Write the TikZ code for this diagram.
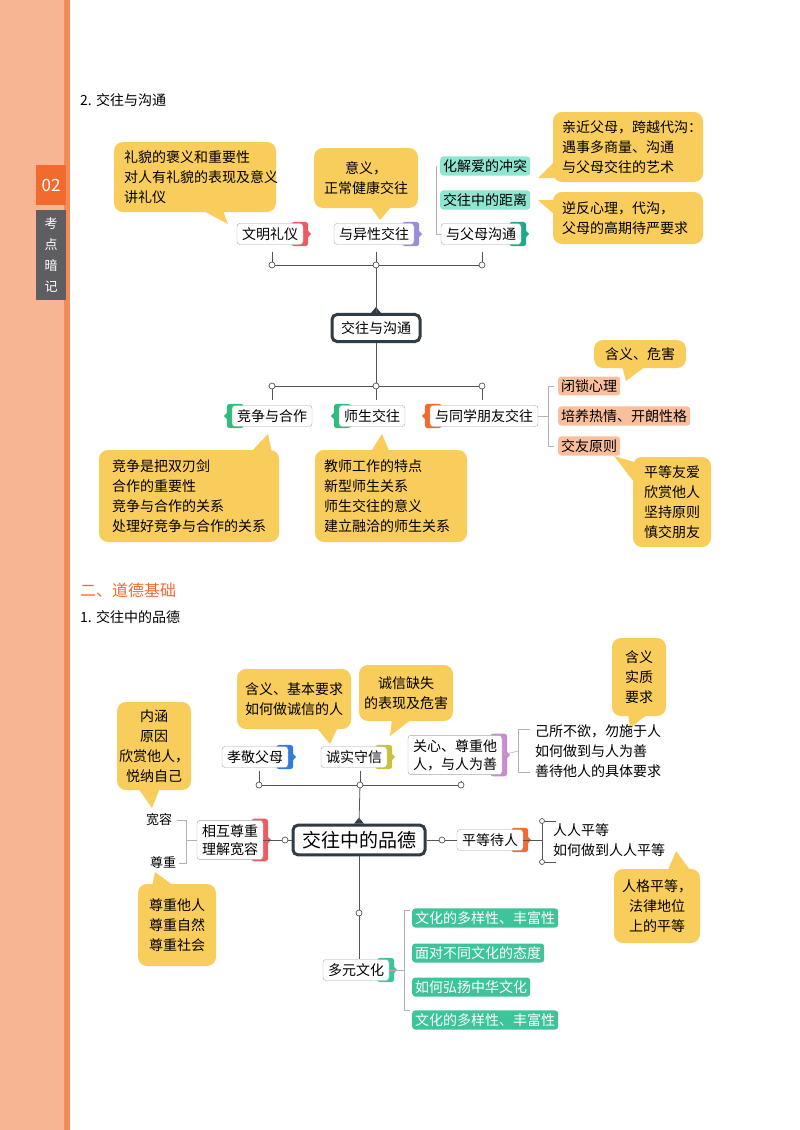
\documentclass[tikz,border=0pt]{standalone}
\usepackage{fontspec}
\setmainfont{Noto Sans CJK SC}
\usetikzlibrary{backgrounds}
\definecolor{cy}{HTML}{F9CD5C}
\definecolor{stripc}{HTML}{F8B594}
\definecolor{orng}{HTML}{F26B2E}
\definecolor{grayb}{HTML}{5E5E60}
\definecolor{ltteal}{HTML}{8EE5D1}
\definecolor{grn}{HTML}{3EC49A}
\definecolor{pink}{HTML}{F9BE9B}
\definecolor{dark}{HTML}{2F3B45}
\definecolor{lnc}{HTML}{555555}
\definecolor{tred}{HTML}{EE5A62}
\definecolor{tpur}{HTML}{9B8CD6}
\definecolor{tteal}{HTML}{1FA88A}
\definecolor{tgrn}{HTML}{2DBF7A}
\definecolor{tblue}{HTML}{2F7BE0}
\definecolor{tyel}{HTML}{C9C23A}
\definecolor{tmag}{HTML}{C98AD0}
\tikzset{
 x=1pt,y=-1pt,
 bn/.style={draw=gray!70,fill=white,rounded corners=3pt,inner xsep=5pt,inner ysep=4pt,font=\fontsize{14}{16}\selectfont,align=left},
 cl/.style={fill=cy,rounded corners=9pt,inner sep=0pt,font=\fontsize{14}{20}\selectfont},
 lab/.style={rounded corners=3pt,inner xsep=3pt,inner ysep=3pt,font=\fontsize{14}{16}\selectfont},
 txt/.style={font=\fontsize{14}{20}\selectfont,align=left,inner sep=0pt},
 ln/.style={draw=lnc,line width=0.8pt},
 br/.style={draw=gray!60,line width=0.6pt},
 dot/.style={circle,draw=lnc,fill=white,inner sep=0pt,minimum size=6pt,line width=0.7pt},
 cen/.style={draw=dark,line width=3pt,fill=white,rounded corners=5pt,inner xsep=9pt,inner ysep=7pt},
}
\newcommand{\tab}[2]{\begin{scope}[on background layer]\fill[#2,rounded corners=3pt]([xshift=-12pt,yshift=1.5pt]#1.north east) rectangle ([xshift=5pt,yshift=-1.5pt]#1.south east);
\fill[#2]([xshift=5pt,yshift=3pt]#1.east)--([xshift=8pt]#1.east)--([xshift=5pt,yshift=-3pt]#1.east)--cycle;\end{scope}}
\newcommand{\ltab}[2]{\begin{scope}[on background layer]\fill[#2,rounded corners=3pt]([xshift=12pt,yshift=1.5pt]#1.north west) rectangle ([xshift=-5pt,yshift=-1.5pt]#1.south west);
\fill[#2]([xshift=-5pt,yshift=3pt]#1.west)--([xshift=-8pt]#1.west)--([xshift=-5pt,yshift=-3pt]#1.west)--cycle;\end{scope}}
\begin{document}
\begin{tikzpicture}
\useasboundingbox (0,0) rectangle (800,1130);
% strip
\fill[stripc] (0,0) rectangle (66,1130);
\fill[orng!80] (64,0) rectangle (70,1130);
\node[fill=orng,minimum width=30pt,minimum height=40pt,inner sep=0pt,text=white,font=\fontsize{17}{17}\selectfont] (n02) at (51,185) {02};
\node[fill=grayb,minimum width=30pt,minimum height=90pt,inner sep=0pt,text=white,align=center,font=\fontsize{13}{21}\selectfont] (kd) at (51,255) {考\\点\\暗\\记};
% titles
\node[anchor=west,txt] (t1) at (80,100) {2. 交往与沟通};
\node[anchor=west,txt,text=orng,font=\fontsize{16}{18}\selectfont] (t2) at (80,590) {二、道德基础};
\node[anchor=west,txt] (t3) at (80,617) {1. 交往中的品德};

% ===== top map =====
\node[cen,font=\fontsize{14}{16}\selectfont] (c1) at (376,328) {交往与沟通};
\fill[dark] ([xshift=-5pt]c1.north)--([yshift=6pt]c1.north)--([xshift=5pt]c1.north)--cycle;
\node[bn] (wm) at (270,234) {文明礼仪}; \tab{wm}{tred}
\node[bn] (yx) at (374,234) {与异性交往}; \tab{yx}{tpur}
\node[bn] (fm) at (481,234) {与父母沟通}; \tab{fm}{tteal}
\coordinate (b1a) at (272,265); \coordinate (b1m) at (376,265); \coordinate (b1b) at (482,265);
\draw[ln] (b1a)--(b1b);
\draw[ln] (272,252)--(b1a); \draw[ln] (376,252)--(b1m); \draw[ln] (482,252)--(b1b);
\draw[ln] (b1m)--(c1.north);
\node[dot] at (b1a) {}; \node[dot] at (b1m) {}; \node[dot] at (b1b) {};
% teal labels
\node[lab,fill=ltteal,anchor=west] (hj) at (440,166) {化解爱的冲突};
\node[lab,fill=ltteal,anchor=west] (jl) at (440,200) {交往中的距离};
\draw[br] (hj.west)++(-4,0) coordinate (q1) -- (q1|-fm.west) -- (fm.west);
% callouts
\node[cl,minimum width=162pt,minimum height=70pt] (k1) at (195,177) {};
\node[txt,anchor=west] at (124,177) {礼貌的褒义和重要性\\对人有礼貌的表现及意义\\讲礼仪};
\fill[cy] (198,208)--(222,208)--(228,224)--cycle;
\node[cl,minimum width=104pt,minimum height=60pt,align=center] (k2) at (366,178) {意义，\\正常健康交往};
\fill[cy] (370,206)--(392,206)--(380,220)--cycle;
\node[cl,minimum width=150pt,minimum height=70pt] (k3) at (628,147) {};
\node[txt,anchor=west] at (562,147) {亲近父母，跨越代沟：\\遇事多商量、沟通\\与父母交往的艺术};
\fill[cy] (556,160)--(556,178)--(538,178)--cycle;
\node[cl,minimum width=150pt,minimum height=52pt] (k4) at (628,218) {};
\node[txt,anchor=west] at (562,218) {逆反心理，代沟，\\父母的高期待严要求};
\fill[cy] (556,200)--(556,216)--(538,200)--cycle;

% lower branches of top map
\node[bn] (jz) at (272,416) {竞争与合作}; \ltab{jz}{tgrn}
\node[bn] (ss) at (372,416) {师生交往}; \ltab{ss}{tgrn}
\node[bn] (ty) at (484,416) {与同学朋友交往}; \ltab{ty}{orng}
\coordinate (b2a) at (272,386); \coordinate (b2m) at (376,386); \coordinate (b2b) at (482,386);
\draw[ln] (c1.south)--(b2m);
\draw[ln] (b2a)--(b2b);
\draw[ln] (b2a)--(272,400); \draw[ln] (b2m)--(376,400); \draw[ln] (b2b)--(482,400);
\node[dot] at (b2a) {}; \node[dot] at (b2m) {}; \node[dot] at (b2b) {};
\node[cl,minimum width=180pt,minimum height=92pt] (k5) at (189,496) {};
\node[txt,anchor=west] at (112,496) {竞争是把双刃剑\\合作的重要性\\竞争与合作的关系\\处理好竞争与合作的关系};
\fill[cy] (250,453)--(272,453)--(268,434)--cycle;
\node[cl,minimum width=152pt,minimum height=92pt] (k6) at (391,496) {};
\node[txt,anchor=west] at (324,496) {教师工作的特点\\新型师生关系\\师生交往的意义\\建立融洽的师生关系};
\fill[cy] (370,453)--(390,453)--(382,434)--cycle;
% right labels
\node[lab,fill=pink,anchor=west] (bs) at (558,386) {闭锁心理};
\node[lab,fill=pink,anchor=west] (py) at (558,416) {培养热情、开朗性格};
\node[lab,fill=pink,anchor=west] (jy) at (558,446) {交友原则};
\draw[br] ([xshift=-4pt]bs.west) -- ([xshift=-10pt]bs.west) -- ([xshift=-10pt]jy.west) -- ([xshift=-4pt]jy.west);
\draw[br] (ty.east) -- ([xshift=-10pt]py.west);
\node[cl,minimum width=92pt,minimum height=28pt] (k7) at (640,354) {含义、危害};
\fill[cy] (622,366)--(646,366)--(626,381)--cycle;
\node[cl,minimum width=78pt,minimum height=90pt,align=left] (k8) at (672,502) {平等友爱\\欣赏他人\\坚持原则\\慎交朋友};
\fill[cy] (634,462)--(634,482)--(614,456)--cycle;

% ===== lower map =====
\node[cen,font=\fontsize{19}{21}\selectfont,inner ysep=6pt] (c2) at (359,840) {交往中的品德};
\fill[dark] ([xshift=-5pt]c2.north)--([yshift=6pt]c2.north)--([xshift=5pt]c2.north)--cycle;
\node[bn] (xj) at (255,757) {孝敬父母}; \tab{xj}{tblue}
\node[bn] (cs) at (354,757) {诚实守信}; \tab{cs}{tyel}
\node[bn,font=\fontsize{14}{18}\selectfont] (gx) at (455,755) {关心、尊重他\\人，与人为善}; \tab{gx}{tmag}
\coordinate (b3a) at (259,785); \coordinate (b3m) at (360,785); \coordinate (b3b) at (461,785);
\draw[ln] (b3a)--(b3b);
\draw[ln] (259,771)--(b3a); \draw[ln] (360,771)--(b3m); \draw[ln] (461,781)--(b3b);
\draw[ln] (b3m)--(c2.north);
\node[dot] at (b3a) {}; \node[dot] at (b3m) {}; \node[dot] at (b3b) {};
\node[cl,minimum width=114pt,minimum height=60pt,align=center] (k9) at (294,699) {含义、基本要求\\如何做诚信的人};
\fill[cy] (316,727)--(338,727)--(330,744)--cycle;
\node[cl,minimum width=94pt,minimum height=56pt,align=center] (k10) at (406,693) {诚信缺失\\的表现及危害};
\fill[cy] (392,719)--(412,719)--(390,736)--cycle;
\node[cl,minimum width=54pt,minimum height=78pt,align=center] (k11) at (639,677) {含义\\实质\\要求};
\fill[cy] (628,714)--(648,714)--(630,728)--cycle;
\node[txt,anchor=west] (gxt) at (535,751) {己所不欲，勿施于人\\如何做到与人为善\\善待他人的具体要求};
\draw[br] (530,729) -- (518,729) -- (518,772) -- (530,772);
\draw[br] (gx.east) -- (518,751);
% left
\node[bn,font=\fontsize{14}{18}\selectfont] (xh) at (230,840) {相互尊重\\理解宽容}; \tab{xh}{tred}
\draw[ln] (xh.east) -- (c2.west); \node[dot] at (285,840) {};
\node[txt,font=\fontsize{13}{15}\selectfont] (kr) at (159,820) {宽容};
\node[txt,font=\fontsize{13}{15}\selectfont] (zz) at (163,863) {尊重};
\draw[br] (177,820) -- (186,820) -- (186,863) -- (179,863);
\draw[br] (186,840) -- (xh.west);
\node[cl,minimum width=74pt,minimum height=88pt,align=center] (k12) at (154,746) {内涵\\原因\\欣赏他人，\\悦纳自己};
\fill[cy] (138,788)--(160,788)--(152,808)--cycle;
\node[cl,minimum width=78pt,minimum height=82pt,align=center] (k13) at (177,925) {尊重他人\\尊重自然\\尊重社会};
\fill[cy] (152,886)--(174,886)--(155,872)--cycle;
% right
\node[bn] (pd) at (490,840) {平等待人}; \tab{pd}{orng}
\draw[ln] (c2.east) -- (pd.west); \node[dot] at (442,840) {};
\node[txt,anchor=west] (rr) at (553,840) {人人平等\\如何做到人人平等};
\draw[ln] (pd.east) -- (542,840);
\draw[ln] (556,821) -- (542,821) -- (542,862) -- (556,862);
\node[dot,minimum size=5pt] at (542,821) {}; \node[dot,minimum size=5pt] at (542,862) {};
\node[cl,minimum width=86pt,minimum height=74pt,align=center] (k14) at (657,906) {人格平等，\\法律地位\\上的平等};
\fill[cy] (668,870)--(690,870)--(676,851)--cycle;
% bottom
\node[bn] (dy) at (356,970) {多元文化}; \tab{dy}{grn}
\draw[ln] (c2.south) -- (c2.south |- dy.north);
\node[dot] at (359,913) {};
\node[lab,fill=grn,text=white,anchor=west] (g1) at (412,918) {文化的多样性、丰富性};
\node[lab,fill=grn,text=white,anchor=west] (g2) at (412,953) {面对不同文化的态度};
\node[lab,fill=grn,text=white,anchor=west] (g3) at (412,987) {如何弘扬中华文化};
\node[lab,fill=grn,text=white,anchor=west] (g4) at (412,1020) {文化的多样性、丰富性};
\draw[br] (410,910) -- (404,910) -- (404,1010) -- (410,1010);
\draw[br] (dy.east) -- (404,970);
\end{tikzpicture}
\end{document}
